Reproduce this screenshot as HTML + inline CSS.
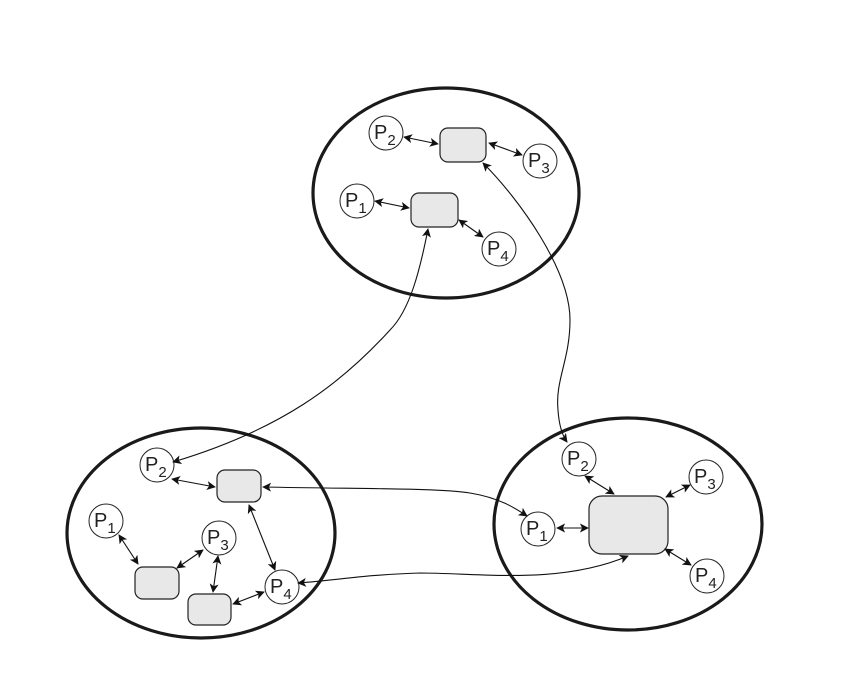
<!DOCTYPE html>
<html><head><meta charset="utf-8"><style>
html,body{margin:0;padding:0;background:#fff;}
svg text{font-family:"Liberation Sans",sans-serif;fill:#222;}
</style></head><body>
<svg width="858" height="679" viewBox="0 0 858 679" xmlns="http://www.w3.org/2000/svg">
<defs>
<marker id="a" viewBox="0 0 10 10" refX="9" refY="5" markerWidth="9" markerHeight="9" markerUnits="userSpaceOnUse" orient="auto-start-reverse">
<path d="M0,0 L10,5 L0,10 L2.5,5 z" fill="#111"/>
</marker>
</defs>
<g fill="none" stroke="#1a1a1a" stroke-width="3.2">
<ellipse cx="446" cy="193" rx="133" ry="105"/>
<ellipse cx="201" cy="533" rx="134" ry="105"/>
<ellipse cx="628" cy="524" rx="134" ry="106"/>
</g>
<g fill="#e8e8e8" stroke="#222" stroke-width="1.2">
<rect x="440" y="128" width="46" height="34" rx="8"/>
<rect x="411" y="193" width="47" height="34" rx="8"/>
<rect x="217" y="470" width="44" height="32" rx="8"/>
<rect x="135" y="567" width="44" height="32" rx="8"/>
<rect x="188" y="594" width="43" height="31" rx="8"/>
<rect x="589" y="496" width="79" height="58" rx="13"/>
</g>
<g fill="#fff" stroke="#222" stroke-width="1">
<circle cx="386" cy="133" r="17"/><circle cx="540" cy="161" r="17"/>
<circle cx="357" cy="201" r="17"/><circle cx="499" cy="249" r="17"/>
<circle cx="157" cy="465" r="17"/><circle cx="106" cy="521" r="17"/>
<circle cx="219" cy="538" r="17"/><circle cx="282" cy="587" r="17"/>
<circle cx="579" cy="459" r="17"/><circle cx="706" cy="477" r="17"/>
<circle cx="538" cy="529" r="17"/><circle cx="707" cy="576" r="17"/>
</g>
<g font-size="20">
<text x="374" y="139">P<tspan font-size="15" dy="6">2</tspan></text>
<text x="528" y="167">P<tspan font-size="15" dy="6">3</tspan></text>
<text x="345" y="207">P<tspan font-size="15" dy="6">1</tspan></text>
<text x="487" y="255">P<tspan font-size="15" dy="6">4</tspan></text>
<text x="145" y="471">P<tspan font-size="15" dy="6">2</tspan></text>
<text x="94" y="527">P<tspan font-size="15" dy="6">1</tspan></text>
<text x="207" y="544">P<tspan font-size="15" dy="6">3</tspan></text>
<text x="270" y="593">P<tspan font-size="15" dy="6">4</tspan></text>
<text x="567" y="465">P<tspan font-size="15" dy="6">2</tspan></text>
<text x="694" y="483">P<tspan font-size="15" dy="6">3</tspan></text>
<text x="526" y="535">P<tspan font-size="15" dy="6">1</tspan></text>
<text x="695" y="582">P<tspan font-size="15" dy="6">4</tspan></text>
</g>
<g fill="none" stroke="#111" stroke-width="1.1" marker-start="url(#a)" marker-end="url(#a)">
<line x1="404" y1="137" x2="438" y2="144"/>
<line x1="489" y1="143" x2="522" y2="155"/>
<line x1="375" y1="201" x2="409" y2="208"/>
<line x1="459" y1="220" x2="483" y2="237"/>
<line x1="172" y1="479" x2="215" y2="487"/>
<line x1="119" y1="535" x2="138" y2="564"/>
<line x1="177" y1="568" x2="203" y2="550"/>
<line x1="218" y1="556" x2="213" y2="592"/>
<line x1="249" y1="505" x2="275" y2="570"/>
<line x1="233" y1="604" x2="264" y2="592"/>
<line x1="585" y1="476" x2="614" y2="494"/>
<line x1="557" y1="528" x2="588" y2="528"/>
<line x1="666" y1="497" x2="690" y2="485"/>
<line x1="665" y1="549" x2="691" y2="565"/>
<path d="M483,163 C520,200 570,270 570,320 C570,360 555,380 558,410 C559,425 562,435 567,442"/>
<path d="M428,229 C420,270 410,310 390,330 C340,385 280,430 173,462"/>
<path d="M263,487 C360,489 440,488 470,493 C500,498 515,508 527,516"/>
<path d="M298,583 C340,580 360,575 420,573 C480,573 560,585 628,556"/>
</g>
</svg>
</body></html>
